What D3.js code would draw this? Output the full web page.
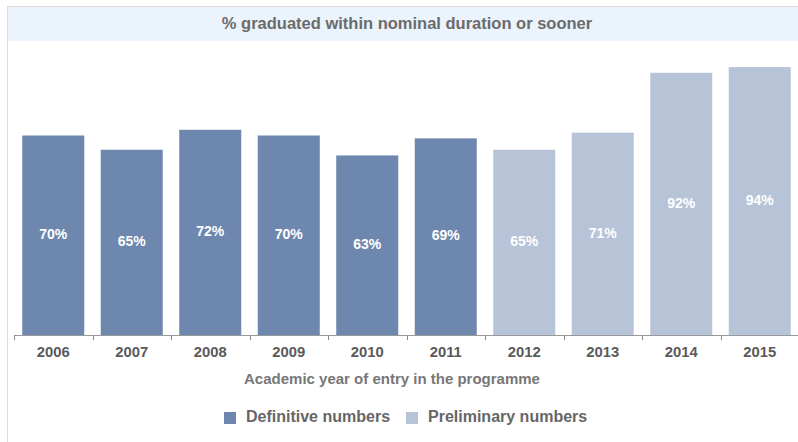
<!DOCTYPE html>
<html><head><meta charset="utf-8">
<script src="https://cdn.jsdelivr.net/npm/d3@7"></script>
<style>body{margin:0;background:#fff}svg{display:block;font-family:"Liberation Sans",Arial,sans-serif}</style>
</head><body><svg id="c" width="798" height="442"></svg>
<script>
const years = ["2006","2007","2008","2009","2010","2011","2012","2013","2014","2015"];
const values = [70, 65, 72, 70, 63, 69, 65, 71, 92, 94];
const seriesOf = ["Definitive","Definitive","Definitive","Definitive","Definitive","Definitive","Preliminary","Preliminary","Preliminary","Preliminary"];
const seriesNames = ["Definitive numbers","Preliminary numbers"];
const seriesKeys = ["Definitive","Preliminary"];
const colors = {Definitive:"#6d87ae", Preliminary:"#b7c4d8"};

const svg = d3.select("#c");
// frame
svg.append("rect").attr("x",7).attr("y",6).attr("width",791).attr("height",35).attr("fill","#ebf3fc");
svg.append("line").attr("x1",7).attr("x2",798).attr("y1",6.5).attr("y2",6.5).attr("stroke","#dcdcdc");
svg.append("line").attr("x1",7.5).attr("x2",7.5).attr("y1",6).attr("y2",442).attr("stroke","#dcdcdc");
svg.append("text").attr("x",407).attr("y",25).attr("text-anchor","middle").attr("dominant-baseline","middle")
  .attr("font-size",16.5).attr("font-weight","bold").attr("fill","#6b6b6b").text("% graduated within nominal duration or sooner");

const x = d3.scaleBand().domain(years).range([14, 799]).paddingInner(0.21).paddingOuter(0.105);
const y = d3.scaleLinear().domain([0,100]).range([335, 50]);

const g = svg.append("g");
g.selectAll("rect.bar").data(years).join("rect").attr("class","bar")
  .attr("x", d => x(d)).attr("width", x.bandwidth())
  .attr("y", (d,i) => y(values[i])).attr("height", (d,i) => y(0) - y(values[i]))
  .attr("fill", (d,i) => colors[seriesOf[i]]);
g.selectAll("text.lbl").data(years).join("text").attr("class","lbl")
  .attr("x", d => x(d) + x.bandwidth()/2)
  .attr("y", (d,i) => (y(values[i]) + y(0))/2)
  .attr("text-anchor","middle").attr("dominant-baseline","middle")
  .attr("font-size",14).attr("font-weight","bold").attr("fill","#fff")
  .text((d,i) => values[i] + "%");

// axis
const ax = svg.append("g").attr("transform","translate(0,335)");
ax.append("line").attr("x1",14).attr("x2",798).attr("y1",0.5).attr("y2",0.5).attr("stroke","#999");
const step = x.step();
const bounds = d3.range(years.length+1).map(i => x(years[0]) - x.paddingOuter()*step + i*step);
ax.selectAll("line.tk").data(bounds).join("line").attr("class","tk")
  .attr("x1", d => Math.round(d)+0.5).attr("x2", d => Math.round(d)+0.5).attr("y1",0).attr("y2",5).attr("stroke","#888");
ax.selectAll("text.tl").data(years).join("text").attr("class","tl")
  .attr("x", d => x(d) + x.bandwidth()/2).attr("y",18)
  .attr("text-anchor","middle").attr("dominant-baseline","middle")
  .attr("font-size",14.8).attr("font-weight","bold").attr("fill","#5a5a5a").text(d => d);
svg.append("text").attr("x",392).attr("y",380).attr("text-anchor","middle").attr("dominant-baseline","middle")
  .attr("font-size",15).attr("font-weight","bold").attr("fill","#777").text("Academic year of entry in the programme");

// legend
const legX = [224, 406];
const lg = svg.selectAll("g.leg").data(seriesKeys).join("g").attr("class","leg")
  .attr("transform", (d,i) => `translate(${legX[i]},418)`);
lg.append("rect").attr("x",0).attr("y",-6).attr("width",12).attr("height",12).attr("fill", d => colors[d]);
lg.append("text").attr("x",22).attr("y",0).attr("dominant-baseline","middle")
  .attr("font-size",16).attr("font-weight","bold").attr("fill","#666").text((d,i) => seriesNames[i]);
</script></body></html>
